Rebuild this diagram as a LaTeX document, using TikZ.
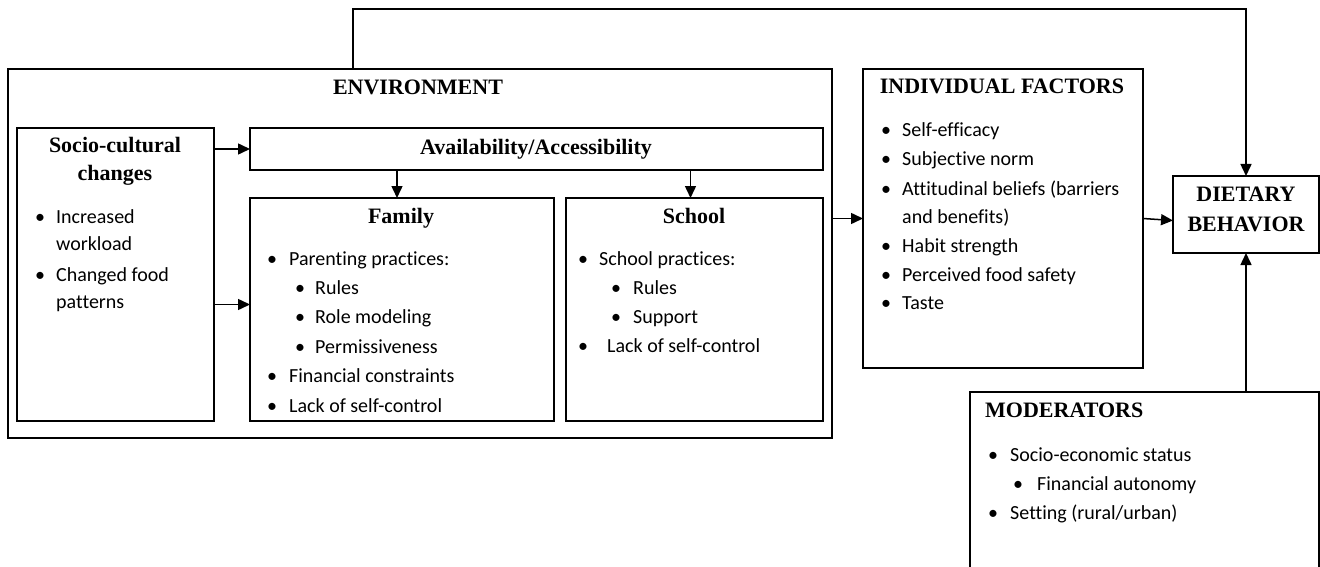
\documentclass[tikz,border=0pt]{standalone}
\usepackage{fontspec}
\setmainfont{Liberation Serif}
\newfontfamily\calib[Ligatures=NoCommon]{Carlito}
\usetikzlibrary{arrows.meta,calc}
\begin{document}
\begin{tikzpicture}[x=1pt,y=-1pt,
  box/.style={draw, line width=1.5pt, anchor=north west, inner sep=0pt, outer sep=0pt},
  arr/.style={line width=1.5pt, -{Triangle[length=12pt,width=11pt]}},
  ttl/.style={font=\fontsize{22}{26}\selectfont\bfseries, anchor=base, inner sep=0pt},
  ttlw/.style={font=\fontsize{22}{26}\selectfont\bfseries, anchor=base west, inner sep=0pt},
  txt/.style={font=\calib\fontsize{20}{24}\selectfont, anchor=base west, inner sep=0pt},
  bul/.style={font=\calib\fontsize{20}{24}\selectfont, anchor=base, inner sep=0pt}]
\useasboundingbox (0,0) rectangle (1320,567);
\clip (0,0) rectangle (1320,567);

% boxes
\node[box, minimum width=824pt, minimum height=369pt] (env) at (8,69) {};
\node[box, minimum width=197pt, minimum height=293pt] (socio) at (17,128) {};
\node[box, minimum width=573pt, minimum height=42pt] (avail) at (250,128) {};
\node[box, minimum width=304pt, minimum height=223pt] (fam) at (250,198) {};
\node[box, minimum width=257pt, minimum height=223pt] (school) at (566,198) {};
\node[box, minimum width=280pt, minimum height=299pt] (indiv) at (863,69) {};
\node[box, minimum width=146pt, minimum height=77pt] (diet) at (1173,176) {};
\node[box, minimum width=349pt, minimum height=220pt] (mod) at (970,392) {};

% titles
\node[ttl] (tEnv) at (418,95) {ENVIRONMENT};
\node[ttl] (tAvail) at (536,155) {Availability/Accessibility};
\node[ttl] (tSocio1) at (115,153) {Socio-cultural};
\node[ttl] (tSocio2) at (115,180) {changes};
\node[ttl] (tFam) at (401,223) {Family};
\node[ttl] (tSchool) at (694,223) {School};
\node[ttl] (tIndiv) at (1002,94) {INDIVIDUAL FACTORS};
\node[ttl] (tDiet1) at (1246,201) {DIETARY};
\node[ttl] (tDiet2) at (1246,231) {BEHAVIOR};
\node[ttlw] (tMod) at (985,417) {MODERATORS};

% socio-cultural bullets
\node[bul] (bs1) at (40,223) {\textbullet};
\node[txt] (s1) at (56,223) {Increased};
\node[txt] (s1b) at (56,250) {workload};
\node[bul] (bs2) at (40,281) {\textbullet};
\node[txt] (s2) at (56,281) {Changed food};
\node[txt] (s2b) at (56,308) {patterns};

% family bullets
\node[bul] (bf1) at (272,265) {\textbullet};
\node[txt] (f1) at (289,265) {Parenting practices:};
\node[bul] (bf2) at (300,294) {\textbullet};
\node[txt] (f2) at (315,294) {Rules};
\node[bul] (bf3) at (300,323.5) {\textbullet};
\node[txt] (f3) at (315,323.5) {Role modeling};
\node[bul] (bf4) at (300,353) {\textbullet};
\node[txt] (f4) at (315,353) {Permissiveness};
\node[bul] (bf5) at (272,382.5) {\textbullet};
\node[txt] (f5) at (289,382.5) {Financial constraints};
\node[bul] (bf6) at (272,412) {\textbullet};
\node[txt] (f6) at (289,412) {Lack of self-control};

% school bullets
\node[bul] (bc1) at (583,265) {\textbullet};
\node[txt] (c1) at (599,265) {School practices:};
\node[bul] (bc2) at (616,294) {\textbullet};
\node[txt] (c2) at (633,294) {Rules};
\node[bul] (bc3) at (616,323) {\textbullet};
\node[txt] (c3) at (633,323) {Support};
\node[bul] (bc4) at (583,352) {\textbullet};
\node[txt] (c4) at (607,352) {Lack of self-control};

% individual bullets
\node[bul] (bi1) at (886,137) {\textbullet};
\node[txt] (i1) at (902,137) {Self-efficacy};
\node[bul] (bi2) at (886,166) {\textbullet};
\node[txt] (i2) at (902,166) {Subjective norm};
\node[bul] (bi3) at (886,195) {\textbullet};
\node[txt] (i3) at (902,195) {Attitudinal beliefs (barriers};
\node[txt] (i3b) at (902,223) {and benefits)};
\node[bul] (bi4) at (886,252) {\textbullet};
\node[txt] (i4) at (902,252) {Habit strength};
\node[bul] (bi5) at (886,281) {\textbullet};
\node[txt] (i5) at (902,281) {Perceived food safety};
\node[bul] (bi6) at (886,309) {\textbullet};
\node[txt] (i6) at (902,309) {Taste};

% moderators bullets
\node[bul] (bm1) at (993,461) {\textbullet};
\node[txt] (m1) at (1010,461) {Socio-economic status};
\node[bul] (bm2) at (1018,490) {\textbullet};
\node[txt] (m2) at (1037,490) {Financial autonomy};
\node[bul] (bm3) at (993,519) {\textbullet};
\node[txt] (m3) at (1010,519) {Setting (rural/urban)};

% connectors
\coordinate (tl) at (353,9);
\draw[arr] (tl |- env.north) -- (tl) -| (diet.north);
\draw[arr] (socio.east |- avail.west) -- (avail.west);
\draw[arr] ($(socio.east |- fam.west)+(0,-5)$) -- ($(fam.west)+(0,-5)$);
\draw[arr] ($(fam.north |- avail.south)+(-5,0)$) -- ($(fam.north)+(-5,0)$);
\draw[arr] ($(school.north |- avail.south)+(-4,0)$) -- ($(school.north)+(-4,0)$);
\draw[arr] (env.east |- indiv.west) -- (indiv.west);
\draw[arr] (indiv.east) -- ($(diet.west)+(0,6)$);
\draw[arr] (diet.south |- mod.north) -- (diet.south);
\end{tikzpicture}
\end{document}
